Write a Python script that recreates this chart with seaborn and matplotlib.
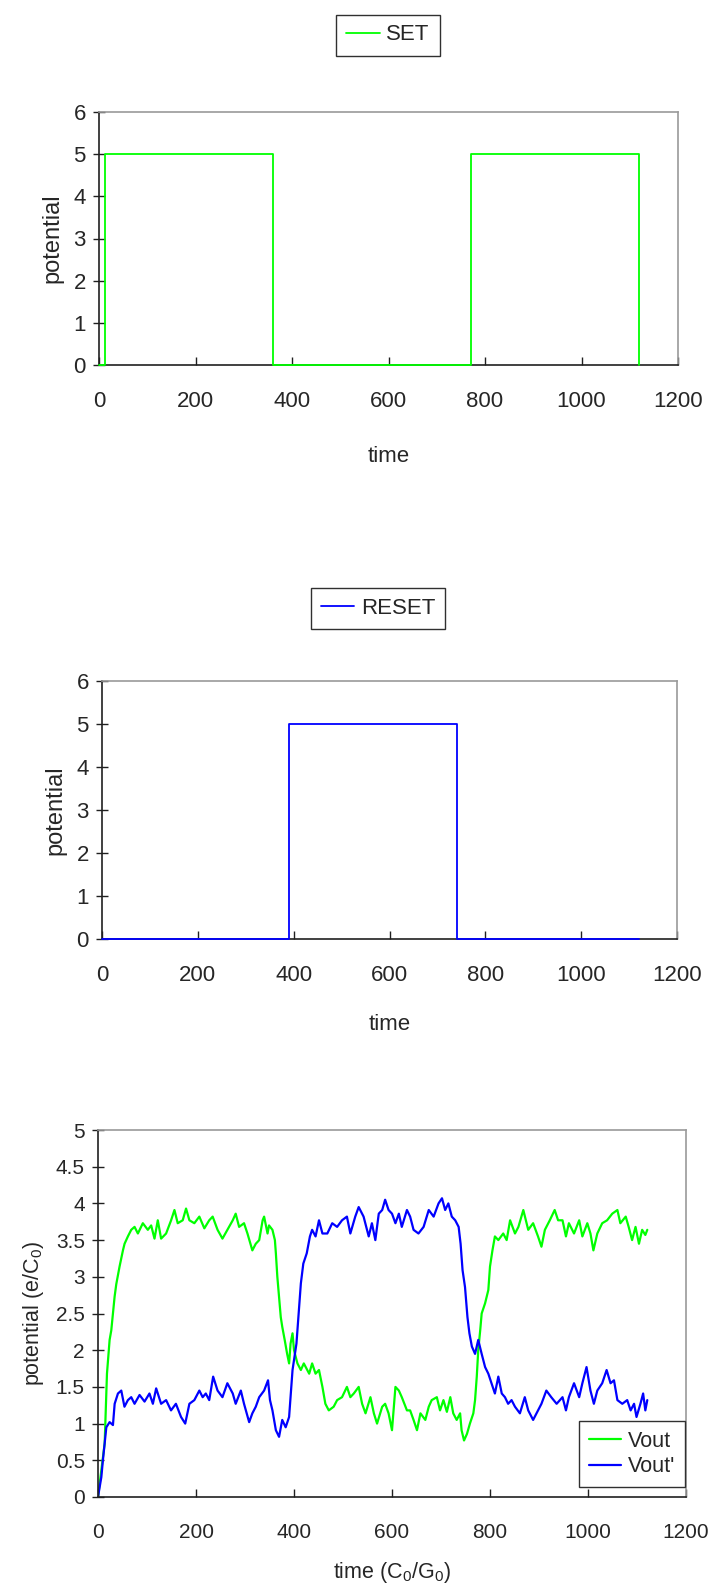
import matplotlib
matplotlib.use("Agg")
import matplotlib.pyplot as plt
import seaborn as sns
from matplotlib.ticker import FuncFormatter, MultipleLocator

sns.set_style("white")
plt.rcParams['font.family'] = ['Liberation Sans', 'DejaVu Sans']
plt.rcParams['mathtext.default'] = 'regular'

# ---- data ----
# SET / RESET pulses, drawn as steps
set_t = [0, 12, 360, 770, 1120]
set_v = [0, 5, 0, 5, 0]
reset_t = [0, 390, 740, 1121]
reset_v = [0, 5, 0, 0]

# Vout (green)
vout_t = [0, 13.6, 18.3, 23.7, 27.1, 33.9, 37.3, 44, 50.9, 54.2, 61, 67.8, 74.6, 81.4, 91.5,
          101.7, 108.5, 115.3, 122, 128.8, 139, 149.2, 156, 162.7, 172.9, 179.7, 186.5, 196.6,
          206.8, 217, 227, 234, 244, 254, 264, 275, 281, 288, 298, 305,
          315, 322, 329, 336, 339, 346, 349, 356, 361, 363, 366, 369.5, 373, 376, 381, 386, 390,
          393, 397, 400, 407, 414, 420, 431, 437, 444, 451, 458, 464, 471, 481, 488, 498, 508,
          515, 522, 532, 539, 546, 556, 563, 569.5, 580, 586, 593, 600, 607, 614, 620, 630.5,
          637, 644, 651, 658, 668, 675, 681, 691.5, 698, 705, 712, 719, 725, 732, 739, 742, 747,
          753, 759, 766, 769.5, 773, 776, 780, 783, 790, 796.6, 800, 805, 810, 817, 827, 834,
          841, 851, 858, 868, 878, 888, 898, 905, 912, 922, 932, 939,
          948, 955, 961, 971.5, 982, 988.5, 998.6, 1005, 1011, 1019, 1029, 1039, 1049.5, 1060,
          1066, 1077, 1083, 1090, 1097, 1104, 1110.5, 1117, 1121]
vout_v = [0, 0.73, 1.68, 2.14, 2.27, 2.73, 2.9, 3.14, 3.36, 3.45, 3.55, 3.64, 3.68, 3.59, 3.73,
          3.64, 3.7, 3.52, 3.77, 3.52, 3.59, 3.77, 3.91, 3.73, 3.77, 3.93, 3.77, 3.73,
          3.82, 3.66, 3.77, 3.82, 3.64, 3.52, 3.64, 3.77, 3.86, 3.68, 3.73, 3.59,
          3.36, 3.45, 3.5, 3.77, 3.82, 3.59, 3.7, 3.64, 3.5, 3.32, 3.0, 2.73, 2.45, 2.32, 2.14, 1.95, 1.82,
          2.09, 2.23, 2.0, 1.82, 1.73, 1.82, 1.68, 1.82, 1.68, 1.73, 1.5, 1.27, 1.18, 1.23, 1.32, 1.36, 1.5,
          1.36, 1.41, 1.5, 1.27, 1.14, 1.36, 1.14, 1.0, 1.23, 1.27, 1.14, 0.91, 1.5, 1.45, 1.36, 1.18,
          1.18, 1.05, 0.91, 1.14, 1.05, 1.23, 1.32, 1.36, 1.18, 1.32, 1.16, 1.36, 1.14, 1.05, 1.14, 0.91, 0.77,
          0.86, 1.0, 1.14, 1.32, 1.64, 2.0, 2.27, 2.5, 2.64, 2.82, 3.14, 3.36, 3.55, 3.5, 3.59, 3.5,
          3.77, 3.59, 3.68, 3.91, 3.64, 3.73, 3.55, 3.41, 3.64, 3.77, 3.91, 3.77,
          3.77, 3.55, 3.73, 3.59, 3.77, 3.55, 3.73, 3.59, 3.36, 3.59, 3.73, 3.77, 3.86, 3.91,
          3.73, 3.82, 3.68, 3.5, 3.68, 3.45, 3.64, 3.57, 3.64]

# Vout' (blue)
voutp_t = [0, 6.8, 10, 13.6, 17, 23.7, 30.5, 34, 40.7, 47.5, 54, 61, 67.8, 74.6, 84.8, 95, 105,
           112, 118.7, 128.8, 139, 149, 159, 169.5, 178, 186.5, 196.6, 206.8, 213.6, 220, 227,
           235, 244, 254, 264, 275, 281, 291.5, 298, 308.5,
           315, 322, 329, 339, 347, 351, 356, 363, 369.5, 376, 383, 390, 393, 397, 401, 405, 410,
           414, 419, 426, 432.5, 437, 444, 451, 458, 468, 478, 488, 498, 508, 515, 525, 532, 542,
           552.5, 559, 566, 573, 580, 586, 593, 600, 607, 614, 620, 630.5,
           637, 644, 654, 664.5, 675, 685, 695, 702, 708.5, 715, 722, 729, 736, 740, 744, 749, 754,
           758, 763, 769.5, 776, 783, 790, 796.6, 803, 810, 817, 824, 830.5, 837, 844, 851, 861,
           871, 878, 888, 898, 905, 915, 925, 936,
           948, 955, 961, 971.5, 982, 988.5, 997, 1005, 1012, 1019, 1029, 1038, 1046, 1053, 1060,
           1070, 1080, 1087, 1094, 1099, 1107, 1112.5, 1117, 1121]
voutp_v = [0, 0.27, 0.5, 0.73, 0.95, 1.02, 0.98, 1.27, 1.41, 1.45, 1.23, 1.32, 1.36, 1.27, 1.39, 1.3, 1.41,
           1.27, 1.48, 1.27, 1.32, 1.18, 1.27, 1.09, 1.0, 1.27, 1.32, 1.45, 1.36, 1.41, 1.32,
           1.64, 1.45, 1.36, 1.55, 1.41, 1.27, 1.45, 1.27, 1.02,
           1.14, 1.23, 1.36, 1.45, 1.59, 1.32, 1.18, 0.91, 0.82, 1.05, 0.95, 1.09, 1.36, 1.73, 1.91, 2.09, 2.55,
           2.91, 3.18, 3.32, 3.55, 3.64, 3.55, 3.77, 3.59, 3.59, 3.73, 3.68, 3.77, 3.82, 3.59, 3.82, 3.95, 3.82,
           3.55, 3.73, 3.5, 3.86, 3.91, 4.05, 3.91, 3.86, 3.73, 3.86, 3.68, 3.91,
           3.82, 3.64, 3.59, 3.68, 3.91, 3.82, 4.0, 4.07, 3.91, 4.0, 3.82, 3.77, 3.68, 3.45, 3.09, 2.86, 2.45,
           2.23, 2.05, 1.95, 2.14, 1.95, 1.77, 1.68, 1.55, 1.41, 1.64, 1.41, 1.36, 1.27, 1.32, 1.23, 1.14,
           1.36, 1.18, 1.05, 1.18, 1.27, 1.45, 1.36, 1.27,
           1.36, 1.18, 1.36, 1.55, 1.36, 1.55, 1.77, 1.45, 1.27, 1.45, 1.55, 1.73, 1.55, 1.59, 1.32,
           1.27, 1.32, 1.18, 1.27, 1.09, 1.27, 1.41, 1.18, 1.32]

GREEN = '#00ff00'
BLUE = '#0000ff'
W, H = 709, 1584


def px_axes(fig, left, right, top, bottom):
    # axes placed by pixel box of the reference
    return fig.add_axes([left / W, 1 - bottom / H, (right - left) / W, (bottom - top) / H])


def style_axes(ax, ymax, ystep, fs):
    ax.set_xlim(0, 1200)
    ax.set_ylim(0, ymax)
    ax.xaxis.set_major_locator(MultipleLocator(200))
    ax.yaxis.set_major_locator(MultipleLocator(ystep))
    ax.yaxis.set_major_formatter(FuncFormatter(lambda v, p: '%g' % v))
    for s in ['left', 'bottom']:
        ax.spines[s].set_color('#202020')
        ax.spines[s].set_linewidth(1.2)
    for s in ['top', 'right']:
        ax.spines[s].set_color('#9a9a9a')
        ax.spines[s].set_linewidth(1.2)
    ax.tick_params(axis='x', direction='in', length=6, width=1, color='#202020',
                   labelsize=fs, pad=19, bottom=True)
    ax.tick_params(axis='y', direction='inout', length=9, width=1, color='#202020',
                   labelsize=fs, pad=5, left=True)
    ax.grid(False)


def legend_at(ax, cx, cy, fs):
    leg = ax.legend(loc='center', bbox_to_anchor=(cx / W, 1 - cy / H),
                    bbox_transform=ax.figure.transFigure, fontsize=fs,
                    frameon=True, fancybox=False, framealpha=1, edgecolor='#303030',
                    handlelength=1.5, handletextpad=0.3, borderpad=0.45, labelspacing=0.2,
                    borderaxespad=0)
    leg.get_frame().set_linewidth(1.0)
    return leg


fig = plt.figure(figsize=(W / 100, H / 100), dpi=100)

# ---- SET ----
ax1 = px_axes(fig, 99, 678, 112, 365)
sns.lineplot(x=set_t, y=set_v, ax=ax1, color=GREEN, lw=1.3, label='SET',
             estimator=None, sort=False, drawstyle='steps-post', clip_on=False, zorder=3)
style_axes(ax1, 6, 1, 16)
ax1.set_ylabel('potential', fontsize=17, labelpad=7)
ax1.set_xlabel('time', fontsize=16, labelpad=24)
legend_at(ax1, 388, 35, 16)

# ---- RESET ----
ax2 = px_axes(fig, 102, 677, 681, 939)
sns.lineplot(x=reset_t, y=reset_v, ax=ax2, color=BLUE, lw=1.3, label='RESET',
             estimator=None, sort=False, drawstyle='steps-post', clip_on=False, zorder=3)
style_axes(ax2, 6, 1, 16)
ax2.set_ylabel('potential', fontsize=17, labelpad=7)
ax2.set_xlabel('time', fontsize=16, labelpad=20)
legend_at(ax2, 378, 608, 16)

# ---- Vout / Vout' ----
ax3 = px_axes(fig, 98, 686, 1130, 1497)
sns.lineplot(x=vout_t, y=vout_v, ax=ax3, color=GREEN, lw=1.6, label='Vout',
             estimator=None, sort=False)
sns.lineplot(x=voutp_t, y=voutp_v, ax=ax3, color=BLUE, lw=1.6, label="Vout'",
             estimator=None, sort=False)
style_axes(ax3, 5, 0.5, 15)
ax3.set_ylabel('potential (e/C$_0$)', fontsize=15.5, labelpad=7)
ax3.set_xlabel('time (C$_0$/G$_0$)', fontsize=15.5, labelpad=13)
legend_at(ax3, 632, 1454, 15.5)

fig.savefig('out.png', dpi=100)
